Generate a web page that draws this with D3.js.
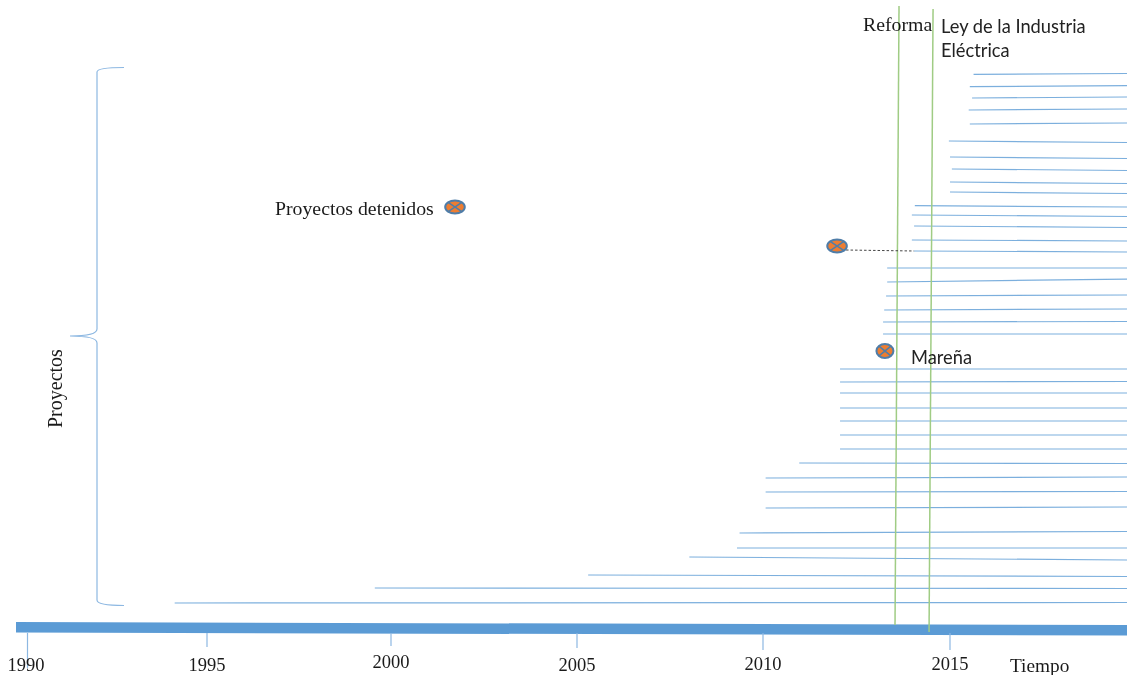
<!DOCTYPE html>
<html>
<head>
<meta charset="utf-8">
<script src="https://cdn.jsdelivr.net/npm/d3@7"></script>
<style>
    html, body { margin: 0; padding: 0; background: #fff; }
    svg { display: block; filter: blur(0.35px); }
    .serif { font-family: "Liberation Serif", serif; fill: #1a1a1a; }
    .sans { font-family: Lato, "Open Sans", sans-serif; fill: #222; }
</style>
</head>
<body>
<div id="chart"></div>
<script>
// tick labels on the time axis
let tickYears = [1990, 1995, 2000, 2005, 2010, 2015];

// each project: year it starts, and its row at the left and right end
// (the rows are not quite level in the picture)
let startYears = [
    1994.1, 1999.56, 2005.3, 2008.02, 2009.3, 2009.37, 2010.07, 2010.07, 2010.07, 2010.97,
    2012.06, 2012.06, 2012.06, 2012.06, 2012.06, 2012.06, 2012.06,
    2013.21, 2013.21, 2013.24, 2013.29, 2013.32, 2013.32,
    2014.04, 2013.98, 2014.04, 2013.98, 2014.06,
    2015.0, 2015.0, 2015.05, 2015.0, 2014.97,
    2015.53, 2015.5, 2015.59, 2015.53, 2015.63
];
let startRows = [
    0.1, 1.6, 2.9, 4.7, 5.6, 7.1, 9.6, 11.2, 12.6, 14.1,
    15.5, 16.9, 18.3, 19.6, 21.1, 22.2, 23.5,
    27.0, 28.2, 29.4, 30.8, 32.2, 33.6,
    35.3, 36.4, 37.8, 38.9, 39.83,
    41.2, 42.2, 43.5, 44.7, 46.3,
    48.0, 49.4, 50.6, 51.73, 52.97
];
let endRows = [
    0.15, 1.55, 2.75, 4.4, 5.6, 7.25, 9.7, 11.25, 12.7, 14.05,
    15.5, 16.9, 18.3, 19.6, 21.1, 22.25, 23.5,
    27.0, 28.25, 29.5, 30.9, 32.5, 33.6,
    35.2, 36.3, 37.65, 38.75, 39.7,
    41.05, 42.05, 43.35, 44.55, 46.15,
    48.1, 49.5, 50.7, 51.83, 53.05
];
let lastYear = 2019.8;

// stopped projects
let stoppedYears = [2001.72, 2011.98, 2013.26];
let stoppedRows = [39.7, 35.8, 25.3];

// reform dates
let reformYears = [2013.53, 2014.44];

// layout, the axis in the picture is not evenly spaced
let tickX = [27.5, 207, 391, 577, 763, 950];
let tickBottom = [668, 647, 646, 648, 650, 650];
let labelBaseline = [671, 671, 668, 671, 670, 670];
let width = 1127, height = 675;

let x = d3.scaleLinear().domain(tickYears).range(tickX);
let y = d3.scaleLinear().domain([0, 53]).range([604, 74]);

let svg = d3.select("#chart").append("svg")
    .attr("width", width)
    .attr("height", height);

// project lines
svg.append("g").selectAll("line")
    .data(startYears)
    .join("line")
    .attr("x1", d => x(d))
    .attr("x2", x(lastYear))
    .attr("y1", (d, i) => y(startRows[i]))
    .attr("y2", (d, i) => y(endRows[i]))
    .attr("stroke", "#5b9bd5")
    .attr("stroke-opacity", 0.8)
    .attr("stroke-width", 1.2);

// time axis, thick tilted bar
svg.append("line")
    .attr("x1", 16).attr("x2", width)
    .attr("y1", 627.3).attr("y2", 630.3)
    .attr("stroke", "#5b9bd5")
    .attr("stroke-width", 10.5);

let axis = d3.axisBottom(x)
    .tickValues(tickYears)
    .tickFormat(d3.format("d"))
    .tickSize(0);

let axisG = svg.append("g").call(axis);
axisG.select(".domain").remove();
axisG.selectAll(".tick").attr("transform", d => "translate(" + x(d) + ",0)");
axisG.selectAll(".tick line")
    .attr("y1", 633)
    .attr("y2", (d, i) => tickBottom[i])
    .attr("stroke", "#8db8e2")
    .attr("stroke-width", 1.2);
axisG.selectAll(".tick text")
    .attr("class", "serif")
    .attr("y", (d, i) => labelBaseline[i])
    .attr("dy", 0)
    .attr("dx", (d, i) => i === 0 ? -1.5 : 0)
    .attr("font-size", 18.5)
    .attr("font-family", "Liberation Serif")
    .attr("fill", "#1a1a1a");

// reform lines, they lean a bit to the right at the top
svg.append("g").selectAll("line")
    .data(reformYears)
    .join("line")
    .attr("x1", d => x(d))
    .attr("x2", d => x(d) + 4)
    .attr("y1", (d, i) => i === 0 ? 625 : 632)
    .attr("y2", (d, i) => i === 0 ? 6 : 9)
    .attr("stroke", "#a0cc84")
    .attr("stroke-width", 1.5);

// dotted link from the stopped project to its line
svg.append("line")
    .attr("x1", x(stoppedYears[1]) + 9)
    .attr("x2", x(startYears[23]))
    .attr("y1", y(stoppedRows[1]) + 4)
    .attr("y2", y(startRows[23]))
    .attr("stroke", "#444")
    .attr("stroke-width", 1)
    .attr("stroke-dasharray", "2.5 2");

// stopped project markers
let stopped = svg.append("g").selectAll("g")
    .data(stoppedYears)
    .join("g")
    .attr("transform", (d, i) => "translate(" + x(d) + "," + y(stoppedRows[i]) + ")");

stopped.append("ellipse")
    .attr("rx", (d, i) => i === 2 ? 8.5 : 9.8)
    .attr("ry", (d, i) => i === 2 ? 7 : 6.5)
    .attr("fill", "#ed7d31")
    .attr("stroke", "#4f7da8")
    .attr("stroke-width", 2);

stopped.append("path")
    .attr("d", (d, i) => {
        let a = (i === 2 ? 8.5 : 9.8) * 0.7, b = (i === 2 ? 7 : 6.5) * 0.7;
        return "M" + (-a) + "," + (-b) + "L" + a + "," + b + "M" + (-a) + "," + b + "L" + a + "," + (-b);
    })
    .attr("stroke", "#4f7da8")
    .attr("stroke-width", 1.5);

// brace on the left
let brace = d3.path();
brace.moveTo(124, 67.5);
brace.bezierCurveTo(110, 67.5, 97, 68, 97, 72);
brace.lineTo(97, 329);
brace.bezierCurveTo(97, 334, 85, 336, 70, 336);
brace.bezierCurveTo(85, 336, 97, 338, 97, 343);
brace.lineTo(97, 600);
brace.bezierCurveTo(97, 604, 110, 605.5, 124, 605.5);

svg.append("path")
    .attr("d", brace.toString())
    .attr("fill", "none")
    .attr("stroke", "#8db8e2")
    .attr("stroke-width", 1.2);

// texts
svg.append("text").attr("class", "serif")
    .attr("x", 275).attr("y", 215).attr("font-size", 19.8)
    .text("Proyectos detenidos");
svg.append("text").attr("class", "serif")
    .attr("x", 863).attr("y", 31).attr("font-size", 19.8)
    .text("Reforma");
svg.append("text").attr("class", "serif")
    .attr("x", 1010).attr("y", 672).attr("font-size", 19.3)
    .text("Tiempo");
svg.append("text").attr("class", "serif")
    .attr("transform", "translate(62,428) rotate(-90)")
    .attr("font-size", 20)
    .text("Proyectos");
svg.append("text").attr("class", "sans")
    .attr("x", 941).attr("y", 33).attr("font-size", 18.3)
    .text("Ley de la Industria");
svg.append("text").attr("class", "sans")
    .attr("x", 941).attr("y", 57).attr("font-size", 18.3)
    .text("Eléctrica");
svg.append("text").attr("class", "sans")
    .attr("x", 911).attr("y", 364).attr("font-size", 18.3)
    .text("Mareña");
</script>
</body>
</html>
